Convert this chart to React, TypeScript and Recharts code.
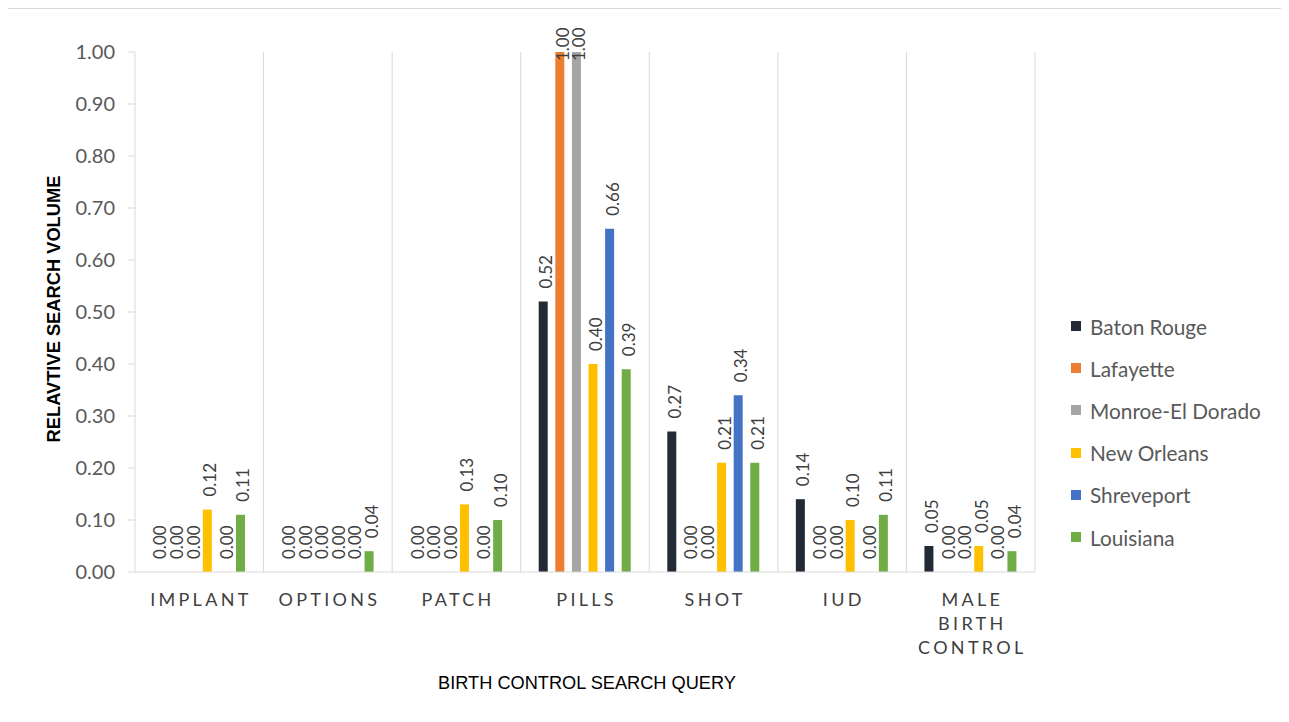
import React from 'react';
import { BarChart, Bar, XAxis, YAxis, CartesianGrid, LabelList } from 'recharts';

const categories = ['IMPLANT', 'OPTIONS', 'PATCH', 'PILLS', 'SHOT', 'IUD', 'MALE BIRTH CONTROL'];
const batonRouge = [0, 0, 0, 0.52, 0.27, 0.14, 0.05];
const lafayette = [0, 0, 0, 1.0, 0, 0, 0];
const monroeElDorado = [0, 0, 0, 1.0, 0, 0, 0];
const newOrleans = [0.12, 0, 0.13, 0.4, 0.21, 0.1, 0.05];
const shreveport = [0, 0, 0, 0.66, 0.34, 0, 0];
const louisiana = [0.11, 0.04, 0.1, 0.39, 0.21, 0.11, 0.04];
const yTicks = [0, 0.1, 0.2, 0.3, 0.4, 0.5, 0.6, 0.7, 0.8, 0.9, 1.0];

const series = [
  { key: 'br', name: 'Baton Rouge', color: '#222A35', values: batonRouge },
  { key: 'la', name: 'Lafayette', color: '#ED7D31', values: lafayette },
  { key: 'mo', name: 'Monroe-El Dorado', color: '#A5A5A5', values: monroeElDorado },
  { key: 'no', name: 'New Orleans', color: '#FFC000', values: newOrleans },
  { key: 'sh', name: 'Shreveport', color: '#4472C4', values: shreveport },
  { key: 'lo', name: 'Louisiana', color: '#70AD47', values: louisiana },
];

const data = categories.map((c, i) => {
  const row: any = { category: c };
  series.forEach((s) => {
    row[s.key] = s.values[i];
    row[s.key + '_lbl'] = s.values[i].toFixed(2);
  });
  return row;
});

const FONT = 'Lato, "Open Sans", sans-serif';
const NARROW = '"Liberation Sans Narrow", "Arial Narrow", "Liberation Sans", sans-serif';
const LABEL_LEN = 36; // approx. length of a rotated value label
const CHART_TOP_LIMIT = 16; // keep rotated labels inside the chart frame

const XTick = (props: any) => {
  const { x, y, payload } = props;
  const v: string = payload.value;
  const words = v.split(' ');
  const lines = words.length > 2 ? words : [v];
  return (
    <g transform={`translate(${x + 1.6},${y})`}>
      <text textAnchor="middle" fill="#404040" fontSize={18} letterSpacing={3.3} fontFamily={FONT}>
        {lines.map((w, i) => (
          <tspan key={i} x={0} dy={i === 0 ? 34 : 24}>
            {w}
          </tspan>
        ))}
      </text>
    </g>
  );
};

const ValueLabel = (props: any) => {
  const { x, y, width, value } = props;
  const cx = Number(x) + Number(width) / 2 + 2.5;
  const cy = Math.max(Number(y) - 13, CHART_TOP_LIMIT + LABEL_LEN);
  return (
    <text
      x={cx}
      y={cy}
      transform={`rotate(-90, ${cx}, ${cy})`}
      textAnchor="start"
      dominantBaseline="central"
      fontSize={17}
      fill="#404040"
      fontFamily={FONT}
    >
      {value}
    </text>
  );
};

// zero-valued bars get a hair-thin height so that their value labels are still drawn
const zeroMinSize = (v: any) => (Number(v) === 0 ? 0.01 : 0);

export default function App() {
  const W = 1280;
  const H = 714;
  return (
    <div
      style={{
        position: 'relative',
        width: W,
        height: H,
        borderTop: '1px solid #d9d9d9',
        borderLeft: '1px solid #d9d9d9',
        background: '#fff',
        marginLeft: -1,
      }}
    >
      <BarChart
        width={W}
        height={H}
        data={data}
        margin={{ top: 43, right: W - 1027, left: 0, bottom: 51 }}
        barSize={9}
        barGap={7.6}
      >
        <CartesianGrid
          horizontal={false}
          stroke="#d9d9d9"
          verticalCoordinatesGenerator={({ offset }: any) =>
            categories.map((_, i) => offset.left + ((i + 1) * offset.width) / categories.length)
          }
        />
        <XAxis
          dataKey="category"
          height={100}
          tickLine={false}
          tickSize={0}
          tickMargin={0}
          axisLine={{ stroke: '#d9d9d9' }}
          tick={<XTick />}
          interval={0}
        />
        <YAxis
          width={127}
          domain={[0, 1]}
          ticks={yTicks}
          tickFormatter={(v: number) => v.toFixed(2)}
          axisLine={{ stroke: '#d9d9d9' }}
          tickLine={{ stroke: '#d9d9d9' }}
          tickSize={7}
          tickMargin={13}
          tick={{ fill: '#595959', fontSize: 20, fontFamily: FONT }}
        />
        {series.map((s) => (
          <Bar
            key={s.key}
            dataKey={s.key}
            name={s.name}
            fill={s.color}
            minPointSize={zeroMinSize as any}
            isAnimationActive={false}
          >
            <LabelList dataKey={s.key + '_lbl'} content={(p: any) => <ValueLabel {...p} />} />
          </Bar>
        ))}
      </BarChart>
      <div
        style={{
          position: 'absolute',
          left: 46,
          top: 43 + 257,
          transform: 'translate(-50%, -50%) rotate(-90deg)',
          whiteSpace: 'nowrap',
          fontFamily: NARROW,
          fontWeight: 'bold',
          fontSize: 18.3,
          color: '#000',
          transformOrigin: 'center',
          lineHeight: 1,
        }}
      >
        RELAVTIVE SEARCH VOLUME
      </div>
      <div
        style={{
          position: 'absolute',
          left: 579,
          top: 674,
          transform: 'translate(-50%, -50%)',
          whiteSpace: 'nowrap',
          fontFamily: NARROW,
          fontSize: 18.2,
          color: '#000',
          lineHeight: 1,
        }}
      >
        BIRTH CONTROL SEARCH QUERY
      </div>
      <div style={{ position: 'absolute', left: 1063, top: 296 }}>
        {series.map((s) => (
          <div
            key={s.key}
            style={{ display: 'flex', alignItems: 'center', height: 42.2, fontFamily: FONT, fontSize: 20.8, color: '#595959' }}
          >
            <span style={{ width: 10, height: 10, background: s.color, display: 'inline-block', marginRight: 9 }} />
            <span>{s.name}</span>
          </div>
        ))}
      </div>
    </div>
  );
}
